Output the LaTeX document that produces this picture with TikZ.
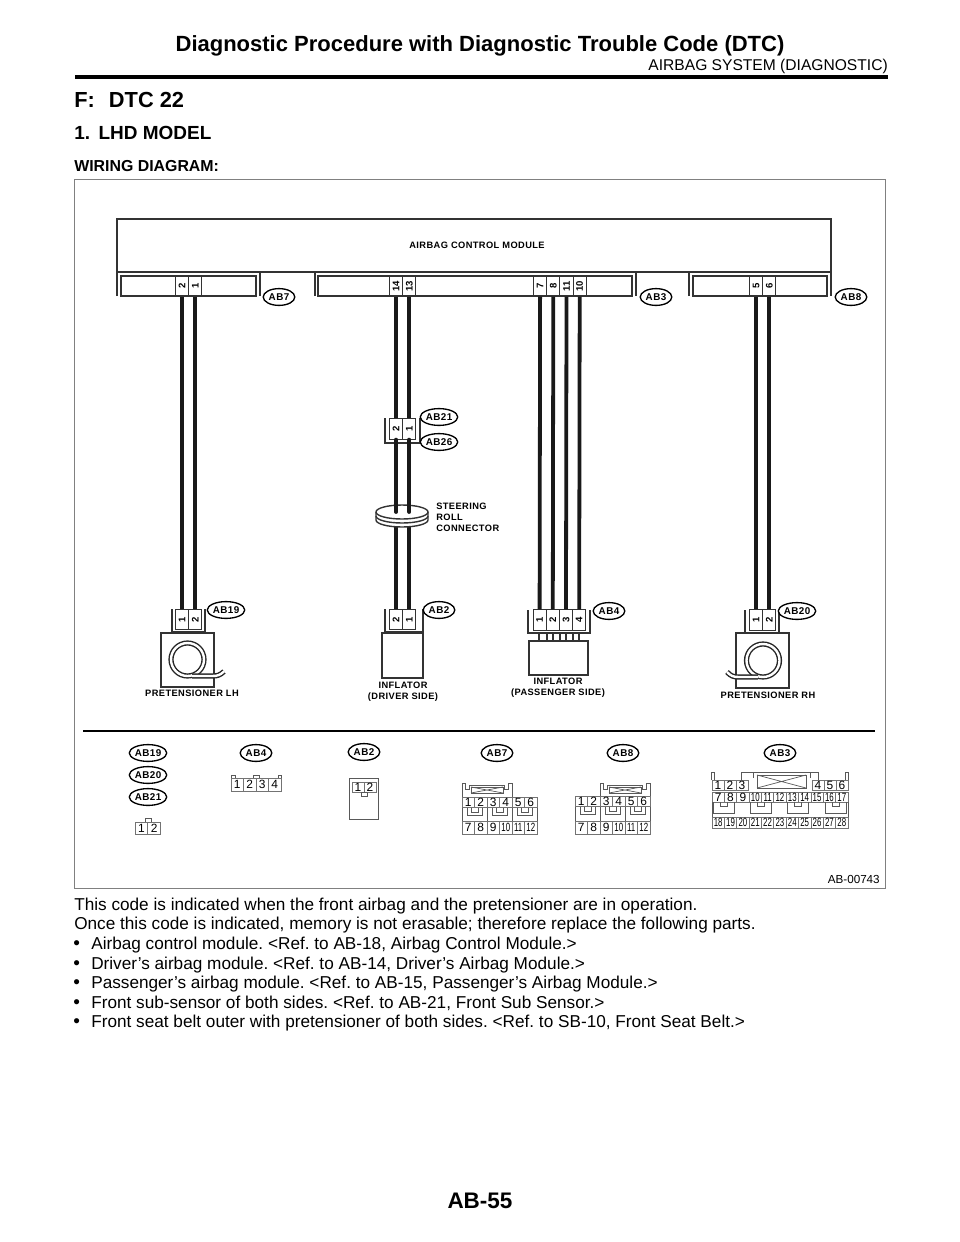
\documentclass[tikz,border=0pt]{standalone}
\usepackage{fontspec}
\usepackage{graphicx}
\setmainfont{Liberation Sans}
\newfontfamily\lblfont[LetterSpace=4.5]{Liberation Sans}
\usetikzlibrary{shapes.geometric}

\newcommand{\fsz}[1]{\fontsize{#1}{#1}\selectfont}
\newcommand{\numlab}[1]{\ifnum#1>9 \scalebox{.66}[1]{#1}\else #1\fi}

% row of numbered cells: name, left x, top y, cell width, cell height, labels
\newcommand{\cellrow}[6]{
    \foreach \lab [count=\i from 0] in {#6}{
        \node[cell, minimum width=#4*0.25mm, minimum height=#5*0.25mm] (#1\lab) at ({#2+#4*\i+#4/2},{#3+#5/2}) {\numlab{\lab}};
    }
}
% row of upright pins on a harness connector: name, left x, centre y, labels
\newcommand{\pinrow}[4]{
    \foreach \lab [count=\i from 0] in {#4}{
        \node[pin] (#1\lab) at ({#2+13.2*\i+6.6},#3) {\rotatebox{90}{\lab}};
    }
}

\tikzset{
    outline/.style={draw=black!80, line width=0.75pt},
    thinline/.style={draw=black!65, line width=0.5pt},
    wire/.style={draw=black!90, line width=2.7pt},
    pin/.style={draw=black!80, line width=0.6pt, inner sep=0pt, minimum width=3.3mm, minimum height=5.1mm, font=\bfseries\fsz{6.8}},
    cell/.style={draw=black!55, line width=0.5pt, inner sep=0pt, font=\fsz{8.5}},
    tag/.style={ellipse, draw=black, line width=0.95pt, fill=white, inner sep=0pt, minimum width=7.9mm, minimum height=4.2mm, font=\lblfont\bfseries\fsz{7}},
    caption/.style={inner sep=0pt, align=center, font=\lblfont\bfseries\fsz{6.6}},
    coil/.style={draw=black!85, line width=1pt, double=white, double distance=1.7pt},
    heading/.style={inner sep=0pt, anchor=base west, font=\bfseries},
    para/.style={inner sep=0pt, anchor=base west, font=\fsz{12.23}},
}

\begin{document}
\frenchspacing
\begin{tikzpicture}[x=0.25mm, y=-0.25mm]
    \useasboundingbox (0,0) rectangle (960,1242);

    % page head
    \node[inner sep=0pt, anchor=base, font=\bfseries\fsz{15.65}] (title) at (480,51) {Diagnostic Procedure with Diagnostic Trouble Code (DTC)};
    \node[inner sep=0pt, anchor=base east, font=\fsz{11.1}] (section) at (888,70) {AIRBAG SYSTEM (DIAGNOSTIC)};
    \draw[line width=2.4pt] (75,77) -- (888,77);
    \node[heading, font=\bfseries\fsz{15.5}] (fhead) at (74,107) {F:\hspace{0.65em}DTC 22};
    \node[heading, font=\bfseries\fsz{13.5}] (lhd) at (74,139) {1.\hspace{0.45em}LHD MODEL};
    \node[heading, font=\bfseries\fsz{11.3}] (wd) at (74,171) {WIRING DIAGRAM:};

    % diagram frame
    \draw[draw=black!50, line width=0.6pt] (74,179) rectangle (885,888);
    \node[inner sep=0pt, anchor=base east, font=\fsz{8.3}] (code) at (880,883) {AB-00743};

    % control module
    \draw[outline] (117,219) rectangle (831,272);
    \node[caption] (module) at (477,245) {AIRBAG CONTROL MODULE};
    \draw[outline] (117,296) -- (117,272) -- (260,272) -- (260,296);
    \draw[outline] (315,296) -- (315,272) -- (636,272) -- (636,296);
    \draw[outline] (689,296) -- (689,272) -- (831,272) -- (831,296);
    \draw[outline] (121,276) rectangle (256,296);
    \draw[outline] (318,276) rectangle (632,296);
    \draw[outline] (693,276) rectangle (827,296);

    \pinrow{a}{175.5}{286}{2,1}
    \pinrow{a}{389.5}{286}{14,13}
    \pinrow{a}{533.5}{286}{7,8,11,10}
    \pinrow{a}{749.5}{286}{5,6}
    \node[tag] (tagA) at (279,297) {AB7};
    \node[tag] (tagB) at (656,297) {AB3};
    \node[tag] (tagC) at (851,297) {AB8};

    % middle connector below the module
    \draw[outline] (385,418) -- (385,443) -- (420,443) -- (420,418);
    \pinrow{m}{389.5}{429}{2,1}
    \node[tag] (tagD) at (439,417) {AB21};
    \node[tag] (tagE) at (439,442) {AB26};

    % lower connectors
    \draw[outline] (172,609) -- (172,632) -- (205,632) -- (205,609);
    \pinrow{b}{175.5}{619.5}{1,2}
    \node[tag] (tagF) at (226,610) {AB19};

    \draw[outline] (385,609) -- (385,632) -- (423,632) -- (423,609);
    \pinrow{c}{389.5}{619.5}{2,1}
    \node[tag] (tagG) at (439,610) {AB2};

    \draw[outline] (528,610) -- (528,633) -- (590,633) -- (590,610);
    \pinrow{d}{533}{620}{1,2,3,4}
    \node[tag] (tagH) at (609,611) {AB4};

    \draw[outline] (745,610) -- (745,633) -- (779,633) -- (779,610);
    \pinrow{e}{749.5}{620}{1,2}
    \node[tag] (tagI) at (797,611) {AB20};

    % wires, steering roll in the middle
    \coordinate (rollL) at (396.1,512);
    \coordinate (rollR) at (409.3,512);
    \foreach \a/\b in {b1/a2, b2/a1, m2/a14, m1/a13, d1/a7, d2/a8, d3/a11, d4/a10, e1/a5, e2/a6}{
        \draw[wire] (\a.north) -- (\b.south);
    }
    \draw[wire] (c2.north) -- (rollL);
    \draw[wire] (c1.north) -- (rollR);
    \draw[outline, line width=1pt, fill=white] (376,512) -- (376,520) arc[start angle=180, end angle=0, x radius=26, y radius=7] -- (428,512);
    \draw[outline, line width=1pt] (376,516) arc[start angle=180, end angle=0, x radius=26, y radius=7];
    \draw[outline, line width=1pt, fill=white] (402,512) ellipse[x radius=26, y radius=7];
    \draw[wire, line cap=round] (m2.south) -- (rollL);
    \draw[wire, line cap=round] (m1.south) -- (rollR);
    \node[caption, align=left, anchor=north west] (rolltext) at (436,503) {STEERING\\[1.2pt]ROLL\\[1.2pt]CONNECTOR};

    % units
    \draw[outline] (161,633) rectangle (214,687);
    \draw[coil] (187.5,659.5) circle[radius=16.5];
    \draw[coil] (192,676) -- (212,676) .. controls (218,676) and (220,675) .. (224,671.5);
    \node[caption] (lh) at (192,693) {PRETENSIONER LH};

    \draw[outline, line width=1pt] (382,633) rectangle (423,678);
    \node[caption] (drv) at (403,691.5) {INFLATOR\\[1.2pt](DRIVER SIDE)};

    \draw[outline] (539,633) rectangle (579,641);
    \foreach \x in {547,553,560,566,573}{
        \draw[outline] (\x,633) -- (\x,641);
    }
    \draw[outline, line width=1pt, fill=white] (529,641) rectangle (588,675);
    \node[caption] (pas) at (558,687.5) {INFLATOR\\[1.2pt](PASSENGER SIDE)};

    \draw[outline] (736,633) rectangle (789,688);
    \draw[coil] (763,660.5) circle[radius=16.5];
    \draw[coil] (758,677) -- (739,677) .. controls (733,677) and (731,676) .. (727,672);
    \node[caption] (rh) at (768,695) {PRETENSIONER RH};

    % connector key
    \draw[line width=1.5pt] (83,731) -- (875,731);
    \node[tag] (keyA) at (148,753) {AB19};
    \node[tag] (keyB) at (148,775) {AB20};
    \node[tag] (keyC) at (148,797) {AB21};
    \node[tag] (keyD) at (256,753) {AB4};
    \node[tag] (keyE) at (364,752) {AB2};
    \node[tag] (keyF) at (497,753) {AB7};
    \node[tag] (keyG) at (623,753) {AB8};
    \node[tag] (keyH) at (780,753) {AB3};

    \draw[thinline] (145,822) -- (145,818) -- (151,818) -- (151,822);
    \cellrow{k}{135}{822}{12.8}{12}{1,2}

    \draw[thinline] (231,778) -- (231,775) -- (235,775) -- (235,778);
    \draw[thinline] (253,778) -- (253,775) -- (259,775) -- (259,778);
    \draw[thinline] (278,778) -- (278,775) -- (281,775) -- (281,778);
    \cellrow{l}{231}{778}{12.5}{13}{1,2,3,4}

    \draw[thinline] (349,778) rectangle (378,819);
    \cellrow{n}{352}{782}{12}{10}{1,2}
    \draw[thinline] (361,792) rectangle (367,796);

    % 12 pole connectors
    \foreach \x/\y/\t/\w in {462/797/462/AA, 575/796/600/BB}{
        \cellrow{\w}{\x}{\y}{12.5}{10.5}{1,2,3,4,5,6}
        \cellrow{\w}{\x}{821}{12.5}{13}{7,8,9,10,11,12}
        \draw[thinline] (\x,\y+10.5) -- (\x,821) (\x+25,\y+10.5) -- (\x+25,821) (\x+50,\y+10.5) -- (\x+50,821) (\x+75,\y+10.5) -- (\x+75,821);
        \foreach \k in {0,1,2}{
            \draw[thinline] (\x+5+25*\k,\y+10.5) -- (\x+5+25*\k,\y+18) -- (\x+20+25*\k,\y+18) -- (\x+20+25*\k,\y+10.5);
            \draw[thinline] (\x+9+25*\k,\y+10.5) -- (\x+9+25*\k,\y+15) -- (\x+16+25*\k,\y+15) -- (\x+16+25*\k,\y+10.5);
        }
        \draw[thinline] (\t,\y) -- (\t,783) -- (\t+3,783) -- (\t+3,789) -- (\t+7,789) -- (\t+7,785) -- (\t+42,785) -- (\t+42,789) -- (\t+46,789) -- (\t+46,783) -- (\t+50,783) -- (\t+50,\y);
        \draw[thinline, fill=white] (\t+9,787) rectangle (\t+41,793);
        \draw[thinline] (\t+9,787) -- (\t+41,793) (\t+9,793) -- (\t+41,787);
    }

    % 28 pole connector
    \cellrow{q}{712}{780}{12}{10}{1,2,3}
    \cellrow{q}{812}{780}{12}{10}{4,5,6}
    \cellrow{q}{712}{792}{12.36}{10}{7,8,9,10,11,12,13,14,15,16,17}
    \cellrow{q}{712}{817}{12.36}{11}{18,19,20,21,22,23,24,25,26,27,28}
    \draw[thinline, fill=white] (757,775) rectangle (806,788);
    \draw[thinline] (757,775) -- (806,788) (757,788) -- (806,775);
    \draw[thinline] (711,780) -- (711,772) -- (714,772) -- (714,780);
    \draw[thinline] (845,780) -- (845,772) -- (848,772) -- (848,780);
    \draw[thinline] (741,780) -- (741,772) -- (753,772) -- (753,778) (810,778) -- (810,772) -- (818,772) -- (818,780);
    \draw[thinline] (753,772) -- (810,772);
    \draw[thinline] (712,802) -- (712,817) (848,802) -- (848,817);
    \foreach \x in {713,750,787,825}{
        \draw[thinline] (\x,802) -- (\x,813) -- (\x+21,813) -- (\x+21,802);
        \draw[thinline] (\x+7,802) -- (\x+7,806) -- (\x+14,806) -- (\x+14,802);
    }

    % text below the diagram
    \node[para] (t1) at (74,910) {This code is indicated when the front airbag and the pretensioner are in operation.};
    \node[para] (t2) at (74,929) {Once this code is indicated, memory is not erasable; therefore replace the following parts.};
    \foreach \y/\txt in {
        949/{Airbag control module. <Ref. to AB-18, Airbag Control Module.>},
        969/{Driver’s airbag module. <Ref. to AB-14, Driver’s Airbag Module.>},
        988/{Passenger’s airbag module. <Ref. to AB-15, Passenger’s Airbag Module.>},
        1008/{Front sub-sensor of both sides. <Ref. to AB-21, Front Sub Sensor.>},
        1027/{Front seat belt outer with pretensioner of both sides. <Ref. to SB-10, Front Seat Belt.>}}{
        \node[para, font=\fsz{13.5}] at (73,\y+0.5) {•};
        \node[para] at (91,\y) {\txt};
    }
    \node[inner sep=0pt, anchor=base, font=\bfseries\fsz{16}] (page) at (480,1208) {AB-55};
\end{tikzpicture}
\end{document}
